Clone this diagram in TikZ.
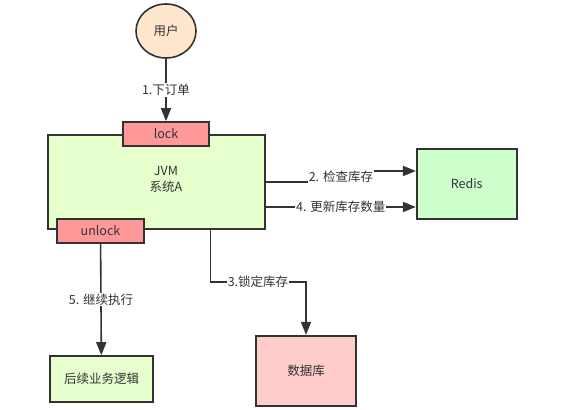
\documentclass[tikz,border=0pt]{standalone}
\usepackage{fontspec}
\setmainfont{Noto Sans CJK SC}
\usepackage{tikz}
\usetikzlibrary{arrows.meta, positioning, shapes.geometric}
\usepackage{xcolor}
\definecolor{ink}{HTML}{333333}
\definecolor{peach}{HTML}{FFE6CC}
\definecolor{lockred}{HTML}{FF9999}
\definecolor{jvmgreen}{HTML}{E6FFCC}
\definecolor{redisgreen}{HTML}{CCFFCC}
\definecolor{dbpink}{HTML}{FFCCCC}

\begin{document}
\begin{tikzpicture}[x=1pt, y=-1pt, line width=1.6pt, draw=ink, text=ink,
    font=\fontsize{12.5pt}{15pt}\selectfont,
    box/.style={rectangle, draw=ink, text=ink, inner sep=0pt},
    flow/.style={draw=ink, -{Triangle[length=13pt, width=10pt]}},
    tag/.style={fill=white, inner sep=1pt, text=ink}]
  \useasboundingbox (0, 0) rectangle (579, 410);

  \node[ellipse, draw=ink, fill=peach, minimum width=60pt, minimum height=54pt, inner sep=0pt] (user) at (166, 31) {用户};
  \node[box, fill=jvmgreen, minimum width=217pt, minimum height=94pt] (jvm) at (156.4, 182) {};
  \node[align=center, inner sep=0pt] (jvmtext) at (166, 179) {JVM\\[1pt]系统A};
  \node[box, fill=lockred, minimum width=86pt, minimum height=24pt] (lock) at (166, 134) {lock};
  \node[box, fill=lockred, minimum width=87pt, minimum height=24pt] (unlock) at (100.5, 231) {unlock};
  \node[box, fill=redisgreen, minimum width=100pt, minimum height=70pt] (redis) at (466.7, 184) {Redis};
  \node[box, fill=dbpink, minimum width=100pt, minimum height=70pt] (db) at (306, 370.7) {数据库};
  \node[box, fill=jvmgreen, minimum width=103pt, minimum height=46pt] (next) at (101.5, 379) {后续业务逻辑};

  \coordinate (bend2a) at (341, 182);
  \coordinate (bend2b) at (341, 171);
  \coordinate (bend3) at (306, 282);

  \draw[flow] (user) -- node[tag] {1.下订单} (lock);
  \draw[flow] (jvm.east) -- (bend2a) -- (bend2b) -- ([yshift=13pt]redis.west);
  \node[tag] at (341, 177) {2. 检查库存};
  \draw[flow] ([yshift=-25pt]jvm.east) -- node[tag] {4. 更新库存数量} ([yshift=-23pt]redis.west);
  \draw[flow] ([xshift=54pt]jvm.south) |- (bend3) -- (db.north);
  \node[tag] at (258, 282) {3.锁定库存};
  \draw[flow] (unlock) -- node[tag, pos=0.5] {5. 继续执行} (next);
\end{tikzpicture}
\end{document}
